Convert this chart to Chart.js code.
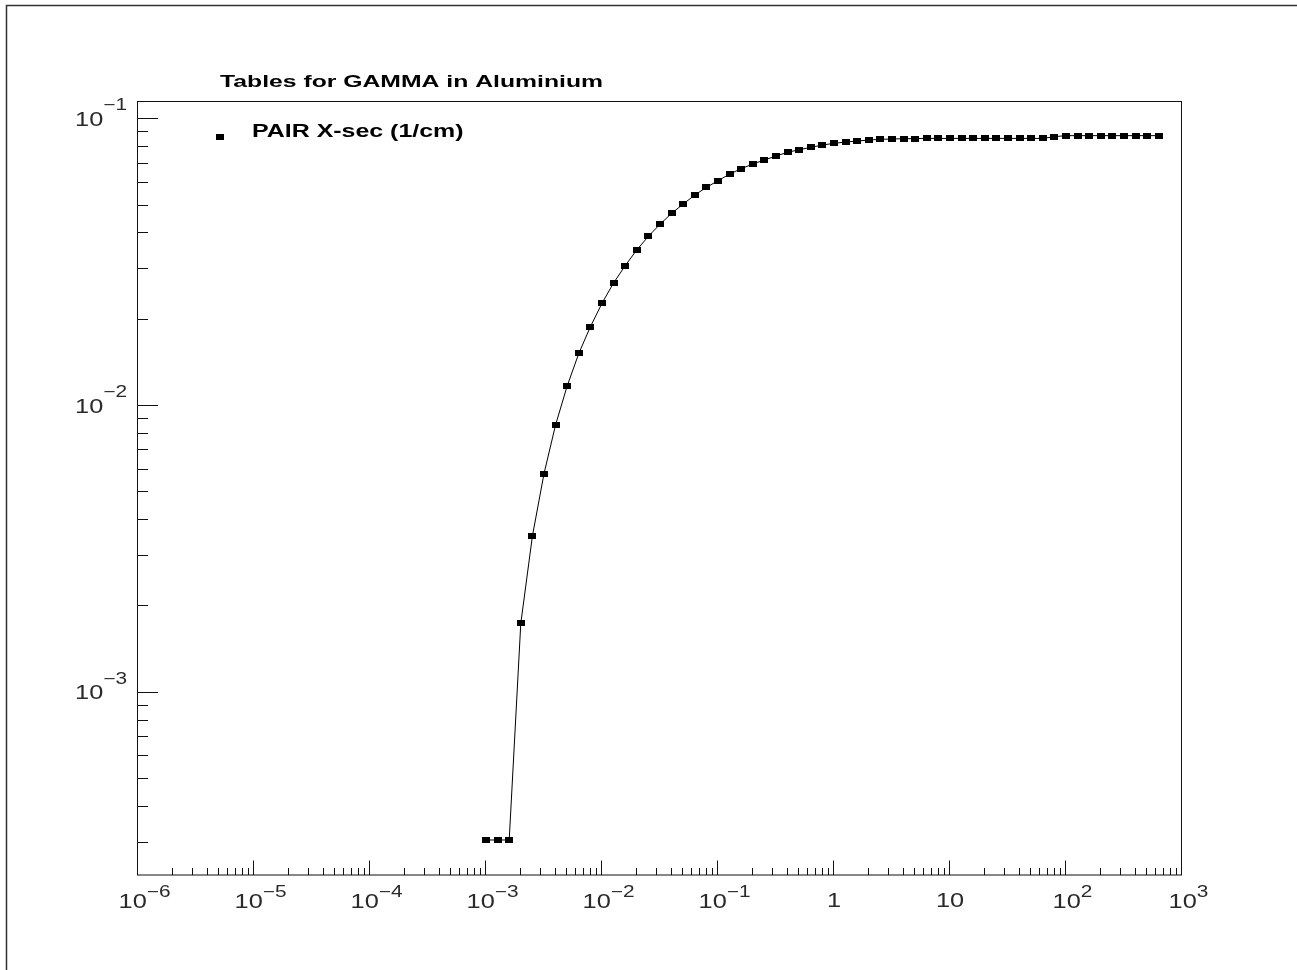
<!DOCTYPE html>
<html><head><meta charset="utf-8">
<script src="https://cdn.jsdelivr.net/npm/chart.js@4"></script>
<style>html,body{margin:0;padding:0;background:#fff}canvas{display:block}</style>
</head><body>
<canvas id="c" width="1297" height="970"></canvas>
<script>
// ---- data ----
const chartTitle = 'Tables for GAMMA in Aluminium';
const seriesLabel = 'PAIR X-sec (1/cm)';
const energies = [0.001,0.001259,0.001585,0.001995,0.002512,0.003162,0.003981,0.005012,0.00631,0.007943,
  0.01,0.01259,0.01585,0.01995,0.02512,0.03162,0.03981,0.05012,0.0631,0.07943,
  0.1,0.1259,0.1585,0.1995,0.2512,0.3162,0.3981,0.5012,0.631,0.7943,
  1,1.259,1.585,1.995,2.512,3.162,3.981,5.012,6.31,7.943,
  10,12.59,15.85,19.95,25.12,31.62,39.81,50.12,63.1,79.43,
  100,125.9,158.5,199.5,251.2,316.2,398.1,501.2,631];
const pairXsec = [3.04e-4,3.04e-4,3.04e-4,1.73e-3,3.49e-3,5.76e-3,8.53e-3,1.166e-2,1.514e-2,1.875e-2,
  2.265e-2,2.666e-2,3.062e-2,3.475e-2,3.877e-2,4.27e-2,4.662e-2,5.024e-2,5.401e-2,5.743e-2,
  6.058e-2,6.391e-2,6.671e-2,6.929e-2,7.155e-2,7.387e-2,7.61e-2,7.771e-2,7.92e-2,8.069e-2,
  8.18e-2,8.265e-2,8.333e-2,8.4e-2,8.447e-2,8.469e-2,8.49e-2,8.5e-2,8.51e-2,8.51e-2,
  8.51e-2,8.51e-2,8.51e-2,8.51e-2,8.51e-2,8.51e-2,8.51e-2,8.51e-2,8.51e-2,8.63e-2,
  8.7e-2,8.7e-2,8.7e-2,8.7e-2,8.7e-2,8.7e-2,8.7e-2,8.7e-2,8.7e-2];
const xMajorValues = [1e-6,1e-5,1e-4,1e-3,1e-2,1e-1,1,10,100,1000];
const xTickLabels = ['10^\u22126','10^\u22125','10^\u22124','10^\u22123','10^\u22122','10^\u22121','1','10','10^2','10^3'];
const yMajorValues = [1e-3,1e-2,1e-1];
const yTickLabels = ['10^\u22123','10^\u22122','10^\u22121'];
const xRange = [1e-6, 1e3];
const yRange = [2.295e-4, 0.114];

// ---- helpers ----
function logTicks(min, max) {
  const out = [];
  const e0 = Math.floor(Math.log10(min)), e1 = Math.ceil(Math.log10(max));
  for (let e = e0; e <= e1; e++) {
    for (let m = 1; m <= 9; m++) {
      const v = parseFloat((m * Math.pow(10, e)).toPrecision(6));
      if (v >= min * 0.9999 && v <= max * 1.0001) out.push({value: v, major: m === 1});
    }
  }
  return out;
}
const SX = 1.3;
function stretchText(ctx, s, x, y, font, sx, align) {
  ctx.font = font;
  const w = ctx.measureText(s).width * sx;
  let left = x;
  if (align === 'center') left = x - w / 2;
  else if (align === 'right') left = x - w;
  ctx.save();
  ctx.translate(left, y);
  ctx.scale(sx, 1);
  ctx.textAlign = 'left';
  ctx.textBaseline = 'alphabetic';
  ctx.fillText(s, 0, 0);
  ctx.restore();
  return w;
}
const MAIN_FONT = '19.5px "Liberation Sans", Arial, sans-serif';
const EXP_FONT = '16px "Liberation Sans", Arial, sans-serif';
function measure(ctx, s, font) { ctx.font = font; return ctx.measureText(s).width * SX; }

const marker = document.createElement('canvas');
marker.width = 8; marker.height = 6;
(function(){ const m = marker.getContext('2d'); m.fillStyle = '#000'; m.fillRect(0,0,8,6); })();

const decoPlugin = {
  id: 'deco',
  afterDraw(chart) {
    const ctx = chart.ctx, a = chart.chartArea;
    const xs = chart.scales.x, ys = chart.scales.y;
    ctx.save();
    // outer page frame
    ctx.strokeStyle = '#333'; ctx.lineWidth = 1.5;
    ctx.beginPath(); ctx.moveTo(6.5, 970); ctx.lineTo(6.5, 5.5); ctx.lineTo(1297, 5.5); ctx.stroke();
    // plot frame
    ctx.strokeStyle = '#111'; ctx.lineWidth = 1;
    ctx.strokeRect(a.left - 0.5, a.top - 0.5, a.right - a.left + 0.0, a.bottom - a.top + 0.5);
    // ticks inward
    ctx.beginPath();
    xs.ticks.forEach(t => {
      const px = Math.round(xs.getPixelForValue(t.value)) - 0.5;
      const len = t.major ? 14.5 : 7;
      ctx.moveTo(px, a.bottom); ctx.lineTo(px, a.bottom - len);
    });
    ys.ticks.forEach(t => {
      const py = Math.round(ys.getPixelForValue(t.value)) + 0.5;
      const len = t.major ? 20 : 10;
      ctx.moveTo(a.left, py); ctx.lineTo(a.left + len, py);
    });
    ctx.stroke();
    // tick labels
    ctx.fillStyle = '#2a2a2a';
    xMajorValues.forEach((v, i) => {
      const px = xs.getPixelForValue(v);
      const parts = xTickLabels[i].split('^');
      if (parts.length === 1) {
        stretchText(ctx, parts[0], px, a.bottom + 32, MAIN_FONT, SX, 'center');
      } else {
        const w1 = measure(ctx, parts[0], MAIN_FONT), w2 = measure(ctx, parts[1], EXP_FONT);
        const left = px + 6.5 - (w1 + w2) / 2;
        stretchText(ctx, parts[0], left, a.bottom + 32.5, MAIN_FONT, SX, 'left');
        stretchText(ctx, parts[1], left + w1, a.bottom + 22, EXP_FONT, SX, 'left');
      }
    });
    yMajorValues.forEach((v, i) => {
      const py = ys.getPixelForValue(v);
      const parts = yTickLabels[i].split('^');
      const w1 = measure(ctx, parts[0], MAIN_FONT), w2 = measure(ctx, parts[1], EXP_FONT);
      const right = 127;
      stretchText(ctx, parts[0], right - w2 - w1, py + 7.7, MAIN_FONT, SX, 'left');
      stretchText(ctx, parts[1], right - w2, py - 8, EXP_FONT, SX, 'left');
    });
    // title
    ctx.fillStyle = '#000';
    ctx.font = 'bold 16.5px "Liberation Sans", Arial, sans-serif';
    let tw = ctx.measureText(chartTitle).width;
    stretchText(ctx, chartTitle, 220, 87, ctx.font, 383 / tw, 'left');
    // legend
    const ds = chart.data.datasets[0];
    ctx.drawImage(marker, 215.5, 134);
    ctx.font = 'bold 17.5px "Liberation Sans", Arial, sans-serif';
    tw = ctx.measureText(ds.label).width;
    stretchText(ctx, ds.label, 252, 137, ctx.font, 211.5 / tw, 'left');
    ctx.restore();
  }
};

new Chart(document.getElementById('c'), {
  type: 'line',
  data: {
    datasets: [{
      label: seriesLabel,
      data: energies.map((e, i) => ({x: e, y: pairXsec[i]})),
      borderColor: '#000',
      borderWidth: 1,
      backgroundColor: '#000',
      pointStyle: marker,
      pointRadius: 4,
      pointHoverRadius: 4,
      tension: 0,
      fill: false
    }]
  },
  options: {
    responsive: false,
    devicePixelRatio: 1,
    animation: false,
    events: [],
    layout: {padding: {left: 0, right: 115, top: 102, bottom: 0}},
    plugins: {legend: {display: false}, tooltip: {enabled: false}, title: {display: false}},
    scales: {
      x: {
        type: 'logarithmic', position: 'bottom', min: xRange[0], max: xRange[1],
        grid: {display: false}, border: {display: false}, ticks: {display: false},
        afterBuildTicks: s => { s.ticks = logTicks(xRange[0], xRange[1]); },
        afterFit: s => { s.height = 95; }
      },
      y: {
        type: 'logarithmic', position: 'left', min: yRange[0], max: yRange[1],
        grid: {display: false}, border: {display: false}, ticks: {display: false},
        afterBuildTicks: s => { s.ticks = logTicks(yRange[0], yRange[1]); },
        afterFit: s => { s.width = 138; }
      }
    }
  },
  plugins: [decoPlugin]
});
</script>
</body></html>
